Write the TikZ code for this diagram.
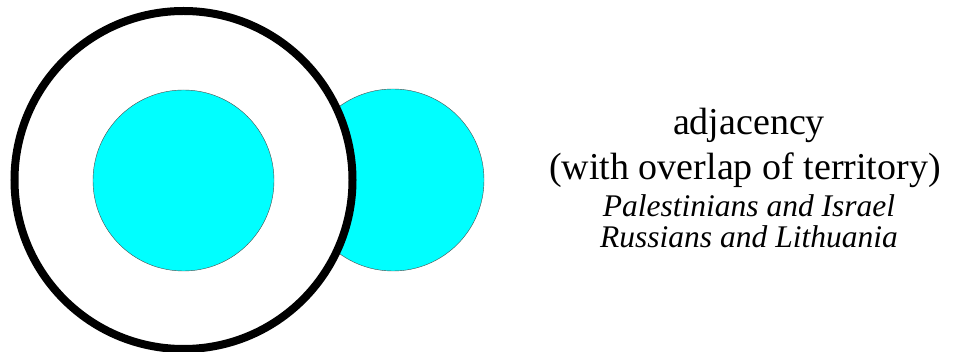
\documentclass[tikz,border=0pt]{standalone}
\usepackage{fontspec}
\setmainfont{Liberation Serif}
\usepackage{tikz}
\usetikzlibrary{positioning}

\definecolor{aqua}{RGB}{0,255,255}

\tikzset{
  region/.style={fill=aqua, draw=black!70, line width=0.4pt},
  label/.style={font=\fontsize{38}{40}\selectfont, anchor=base},
  example/.style={font=\fontsize{31.5}{33}\selectfont\itshape, anchor=base}
}

\begin{document}
\begin{tikzpicture}[x=1pt, y=-1pt]
\useasboundingbox (0,0) rectangle (958,352);

% Neighbouring territory (right)
\draw[region] (393,180) circle (91);

% Home territory (thick ring)
\draw[line width=8pt, fill=white] (183.5,180) circle (169);

% Core group inside
\draw[region] (183.5,180.5) circle (90.5);

% Caption
\node[label] (title) at (749,135) {adjacency};
\node[label] (sub) at (745,180) {(with overlap of territory)};
\node[example] (ex1) at (749,217) {Palestinians and Israel};
\node[example] (ex2) at (749,248) {Russians and Lithuania};

\end{tikzpicture}
\end{document}
